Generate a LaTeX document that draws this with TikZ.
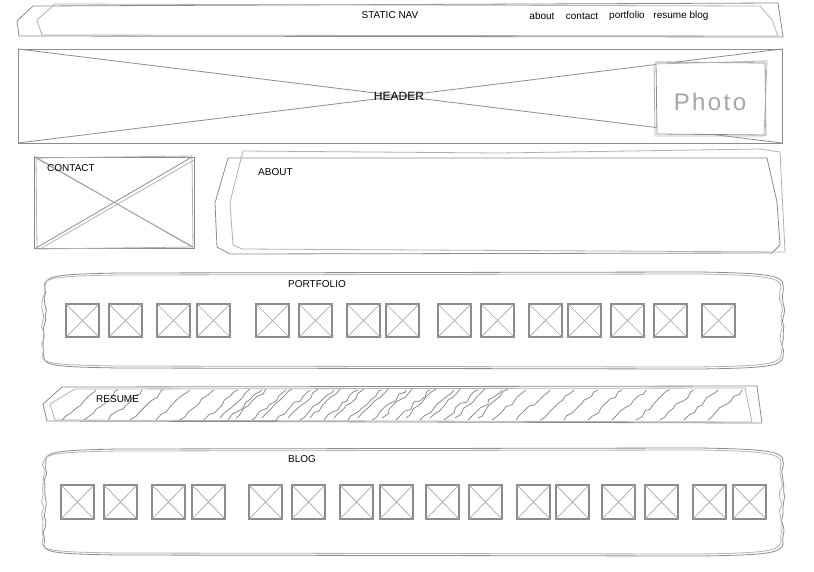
\documentclass[tikz,border=0pt]{standalone}
\usepackage{fontspec}
\setmainfont{Liberation Sans}
\newfontfamily\photofont[LetterSpace=10]{Liberation Sans}
\usetikzlibrary{decorations.pathmorphing}

% sketchy panel with wavy sides: left, top, right, bottom
\newcommand{\wavypanel}[5]{%
  \draw[#5] (#1+2,#2+11) .. controls (#1+3,#2+4) and (#1+15,#2+2) .. (#1+75,#2+1) -- (#3-85,#2)
    .. controls (#3-15,#2+1) and (#3-2,#2+4) .. (#3-1,#2+12)
    decorate[wavy] {-- (#3-1,#4-11)}
    .. controls (#3-3,#4-2) and (#3-15,#4) .. (#3-85,#4+1) -- (#1+75,#4)
    .. controls (#1+15,#4-1) and (#1+1,#4-2) .. (#1,#4-10)
    decorate[wavy] {-- (#1+2,#2+11)};
}

\begin{document}
\begin{tikzpicture}[x=1pt,y=-1pt,
    sketch/.style={draw=black!45, line width=0.8pt},
    faint/.style={draw=black!30, line width=0.8pt},
    wftext/.style={font=\fontsize{10}{12}\selectfont, inner sep=1pt},
    wavy/.style={decorate, decoration={random steps, segment length=6pt, amplitude=1.6pt}},
    hatch/.style={draw=black!45, line width=0.8pt, decorate, decoration={random steps, segment length=6pt, amplitude=1.8pt}},
    thumb/.style={draw=black!45, line width=1.6pt},
    thumbx/.style={draw=black!35, line width=0.7pt}]
\pgfmathsetseed{7}
\useasboundingbox[fill=white] (0,0) rectangle (814,571);

% Static nav bar
\draw[sketch] (33,6) -- (17,21) -- (19,36) -- (783,37) -- (778,3) -- cycle;
\draw[faint] (55,4) -- (37,20) -- (42,35) -- (778,36) -- (772,20) -- (760,6) -- cycle;
\node[wftext] (nav) at (390,15) {STATIC NAV};
\node[wftext] (about) at (542,16) {about};
\node[wftext] (contact) at (582,16) {contact};
\node[wftext] (portfolio) at (627,16) {portfolio};
\node[wftext] (resumeblog) at (681,16) {resume blog};

% Header with photo
\draw[sketch] (18,49) rectangle (782,143);
\draw[sketch] (18,49) -- (782,143) (18,143) -- (782,49);
\filldraw[sketch, fill=white] (656,62) -- (765,63) -- (766,135) -- (657,134) -- cycle;
\draw[faint] (654,64) -- (767,61) -- (764,136) -- (655,136) -- cycle;
\node[wftext, font=\fontsize{12}{14}\selectfont, inner sep=0pt] (header) at (399,96) {HEADER};
\node[text=black!35, font=\photofont\fontsize{24}{24}\selectfont] (photo) at (710,102) {Photo};

% Contact box
\draw[sketch] (34,157) rectangle (194,248);
\draw[faint] (36,158) -- (192,156) -- (193,247) -- (37,249) -- cycle;
\draw[sketch] (36,158) -- (193,247) (36,248) -- (192,157);
\draw[faint] (34,156) -- (190,246) (40,249) -- (194,160);
\node[wftext, anchor=west] (contacttxt) at (46,168) {CONTACT};

% About panel
\draw[sketch] (228,158) -- (767,158) -- (777,202) -- (780,245) -- (772,253) -- (230,254) -- (217,247) -- (215,203) -- cycle;
\draw[faint] (243,151) -- (500,153) -- (760,149) -- (780,152) -- (785,252) -- (242,249) -- (233,245) -- (230,202) -- cycle;
\node[wftext, anchor=west] (abouttxt) at (257,172) {ABOUT};

% Portfolio panel
\wavypanel{44}{272}{784}{368}{sketch}
\wavypanel{42}{274}{782}{366}{faint}
\node[wftext] (portfoliotxt) at (317,284) {PORTFOLIO};
\foreach \x in {66,109,157,197,256,299,347,386,438,481,529,568,611,654,702} {
  \draw[thumb] (\x,304) rectangle ++(33,33);
  \draw[thumbx] (\x,304) -- ++(33,33) (\x,337) -- ++(33,-33);
}

% Resume bar with scribbles
\draw[sketch] (62,387) -- (757,386) -- (762,423) -- (47,421) -- (43,404) -- cycle;
\draw[faint] (75,389) -- (745,388) -- (752,422) -- (55,420) -- (50,404) -- cycle;
\foreach \x in {62,84,108,130,156,180,204,228,252,276,300,324,348,372,396,420,444,468,492,516,540,564,588,612,636,660,684,708}
  \draw[hatch] (\x,420) -- (\x+34,390);
\foreach \x in {220,236,262,288,310,334,358,382,406,430,455,478}
  \draw[hatch] (\x,418) -- (\x+30,389);
\node[wftext, anchor=west] (resumetxt) at (95,399) {RESUME};

% Blog panel
\wavypanel{44}{448}{784}{555}{sketch}
\wavypanel{42}{450}{782}{553}{faint}
\node[wftext] (blogtxt) at (302,459) {BLOG};
\foreach \x in {61,104,152,192,249,292,340,380,426,469,517,556,602,645,693,733} {
  \draw[thumb] (\x,485) rectangle ++(33,34);
  \draw[thumbx] (\x,485) -- ++(33,34) (\x,519) -- ++(33,-34);
}
\end{tikzpicture}
\end{document}
